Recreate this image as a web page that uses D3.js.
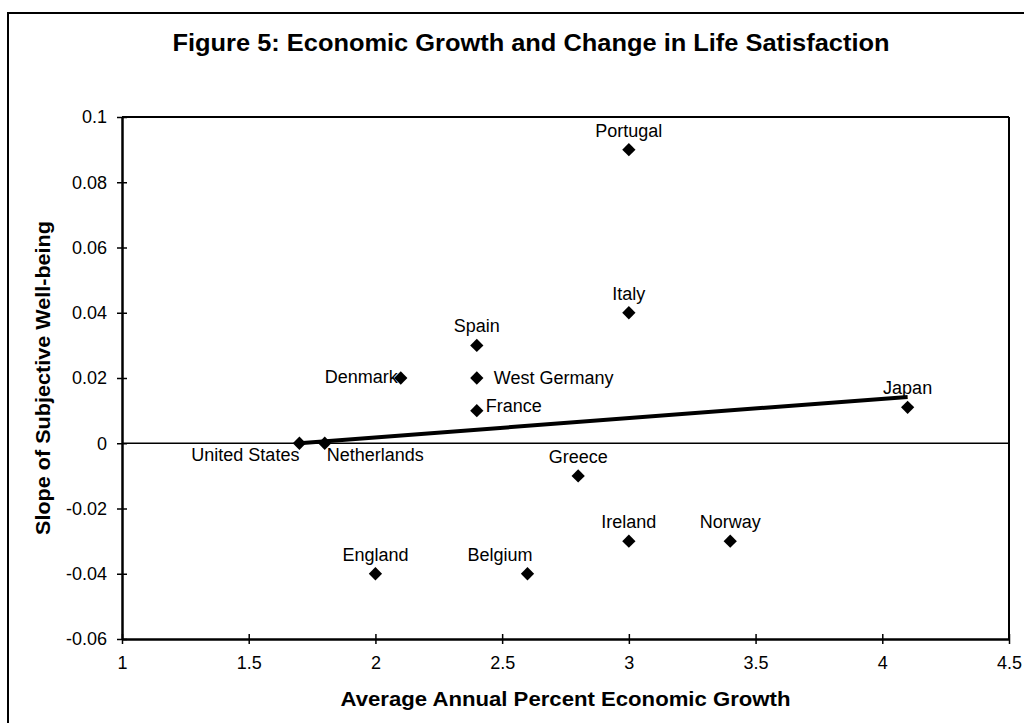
<!DOCTYPE html>
<html>
<head>
<meta charset="utf-8">
<script src="https://cdn.jsdelivr.net/npm/d3@7"></script>
<style>
  html, body { margin: 0; padding: 0; background: #fff; }
  svg { display: block; font-family: "Liberation Sans", Arial, Helvetica, sans-serif; }
</style>
</head>
<body>
<svg id="chart" width="1024" height="723"></svg>
<script>
// ---- Data ----
const countries = ["United States","Netherlands","Denmark","Spain","West Germany","France","Portugal","Italy","Greece","Ireland","Norway","England","Belgium","Japan"];
const growth    = [1.7, 1.8, 2.1, 2.4, 2.4, 2.4, 3.0, 3.0, 2.8, 3.0, 3.4, 2.0, 2.6, 4.1];
const slopeSWB  = [0.0, 0.0, 0.02, 0.03, 0.02, 0.01, 0.09, 0.04, -0.01, -0.03, -0.03, -0.04, -0.04, 0.011];
const labelPos  = ["belowLeft","belowRight","left","above","right","rightUp","above","above","above","above","above","above","aboveLeft","above"];
const fitX = [1.7, 4.1];
const fitY = [0.0, 0.0142];
const xTicks = [1, 1.5, 2, 2.5, 3, 3.5, 4, 4.5];
const xTickLabels = ["1","1.5","2","2.5","3","3.5","4","4.5"];
const yTicks = [-0.06, -0.04, -0.02, 0, 0.02, 0.04, 0.06, 0.08, 0.1];
const yTickLabels = ["-0.06","-0.04","-0.02","0","0.02","0.04","0.06","0.08","0.1"];
const titleText = "Figure 5: Economic Growth and Change in Life Satisfaction";
const xTitle = "Average Annual Percent Economic Growth";
const yTitle = "Slope of Subjective Well-being";

// ---- Layout ----
const svg = d3.select("#chart");
const L = 122, R = 1009, T = 117, B = 639;
const x = d3.scaleLinear().domain([1, 4.5]).range([L, R]);
const y = d3.scaleLinear().domain([-0.06, 0.1]).range([B, T]);

// outer frame (extends past right/bottom edge as in scan)
svg.append("rect").attr("x", 8).attr("y", 13).attr("width", 1100).attr("height", 800)
  .attr("fill", "none").attr("stroke", "#000").attr("stroke-width", 2);

// title
svg.append("text").attr("x", 531).attr("y", 51).attr("text-anchor", "middle")
  .attr("font-size", 23).attr("font-weight", "bold")
  .attr("textLength", 717).attr("lengthAdjust", "spacingAndGlyphs")
  .text(titleText);

// plot frame: top and right
svg.append("line").attr("x1", L).attr("x2", R).attr("y1", T).attr("y2", T)
  .attr("stroke", "#000").attr("stroke-width", 2);
svg.append("line").attr("x1", R).attr("x2", R).attr("y1", T).attr("y2", B)
  .attr("stroke", "#000").attr("stroke-width", 2);

// zero line
svg.append("line").attr("x1", L).attr("x2", R).attr("y1", y(0)).attr("y2", y(0))
  .attr("stroke", "#000").attr("stroke-width", 1.5);

// axes
const xAxis = d3.axisBottom(x).tickValues(xTicks)
  .tickFormat((d, i) => xTickLabels[i]).tickSizeInner(6).tickSizeOuter(0).tickPadding(11);
const gx = svg.append("g").attr("transform", `translate(0,${B})`).call(xAxis);
gx.select(".domain").attr("stroke-width", 2.5);
gx.selectAll(".tick line").attr("y1", -5).attr("y2", 5).attr("stroke-width", 1.5);
gx.selectAll(".tick text").attr("font-size", 18).attr("font-family", "Liberation Sans, Arial, sans-serif").attr("fill", "#000");

const yAxis = d3.axisLeft(y).tickValues(yTicks)
  .tickFormat((d, i) => yTickLabels[i]).tickSizeInner(6).tickSizeOuter(0).tickPadding(9);
const gy = svg.append("g").attr("transform", `translate(${L},0)`).call(yAxis);
gy.select(".domain").attr("stroke-width", 2.5);
gy.selectAll(".tick line").attr("x1", -5).attr("x2", 5).attr("stroke-width", 1.5);
gy.selectAll(".tick text").attr("font-size", 18).attr("font-family", "Liberation Sans, Arial, sans-serif").attr("fill", "#000");

// axis titles
svg.append("text").attr("x", (L + R) / 2).attr("y", 706).attr("text-anchor", "middle")
  .attr("font-size", 21).attr("font-weight", "bold")
  .attr("textLength", 450).attr("lengthAdjust", "spacingAndGlyphs")
  .text(xTitle);
svg.append("text").attr("transform", `translate(50,${(T + B) / 2}) rotate(-90)`)
  .attr("text-anchor", "middle").attr("font-size", 21).attr("font-weight", "bold")
  .attr("textLength", 314).attr("lengthAdjust", "spacingAndGlyphs")
  .text(yTitle);

// fit line
const fitData = fitX.map((v, i) => [v, fitY[i]]);
svg.append("path").datum(fitData)
  .attr("d", d3.line().x(d => x(d[0])).y(d => y(d[1])))
  .attr("stroke", "#000").attr("stroke-width", 4).attr("fill", "none");

// points
const pts = countries.map((c, i) => ({ name: c, gx: growth[i], sy: slopeSWB[i], pos: labelPos[i] }));
const sym = d3.symbol().type(d3.symbolSquare).size(88);
svg.append("g").selectAll("path").data(pts).join("path")
  .attr("d", sym)
  .attr("transform", d => `translate(${x(d.gx)},${y(d.sy)}) rotate(45)`)
  .attr("fill", "#000");

// labels
const off = {
  above:      { dx: 0,   dy: -13, anchor: "middle" },
  aboveLeft:  { dx: 5,   dy: -13, anchor: "end" },
  left:       { dx: -3,  dy: 5,   anchor: "end" },
  right:      { dx: 17,  dy: 6,   anchor: "start" },
  rightUp:    { dx: 9,   dy: 1,   anchor: "start" },
  belowLeft:  { dx: 0,   dy: 18,  anchor: "end" },
  belowRight: { dx: 2,   dy: 18,  anchor: "start" }
};
svg.append("g").selectAll("text").data(pts).join("text")
  .attr("x", d => x(d.gx) + off[d.pos].dx)
  .attr("y", d => y(d.sy) + off[d.pos].dy)
  .attr("text-anchor", d => off[d.pos].anchor)
  .attr("font-size", 18)
  .text(d => d.name);
</script>
</body>
</html>
